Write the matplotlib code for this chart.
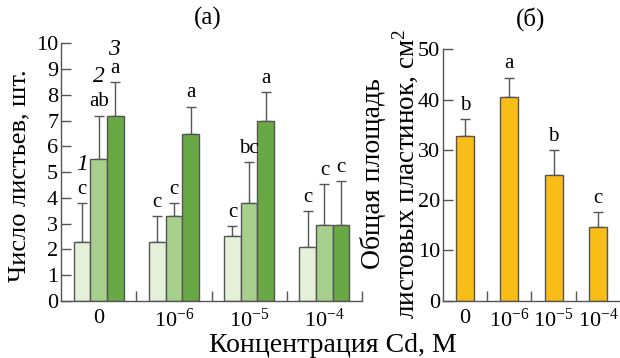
import numpy as np
import matplotlib
matplotlib.use("Agg")
import matplotlib.pyplot as plt

plt.rcParams['font.family'] = ['Liberation Serif', 'DejaVu Serif']
plt.rcParams['mathtext.fontset'] = 'custom'
plt.rcParams['mathtext.rm'] = 'Liberation Serif'
plt.rcParams['mathtext.it'] = 'Liberation Serif:italic'

# Данные: панель (а) - число листьев
conc_labels = ['0', '$10^{-6}$', '$10^{-5}$', '$10^{-4}$']
leaves_1 = [2.3, 2.3, 2.5, 2.1]
leaves_2 = [5.5, 3.3, 3.8, 2.95]
leaves_3 = [7.2, 6.5, 7.0, 2.95]
err_1 = [1.5, 1.0, 0.4, 1.4]
err_2 = [1.7, 0.5, 1.6, 1.6]
err_3 = [1.3, 1.05, 1.1, 1.7]
let_1 = ['c', 'c', 'c', 'c']
let_2 = ['ab', 'c', 'bc', 'c']
let_3 = ['a', 'a', 'a', 'c']

# Панель (б) - общая площадь листовых пластинок
area = [32.8, 40.6, 25.0, 14.6]
area_err = [3.4, 3.8, 5.0, 3.0]
area_let = ['b', 'a', 'b', 'c']

greens = ['#e5f0d9', '#a7d08c', '#69a945']
yellow = '#f8bd16'
edge = '#555555'

fig = plt.figure(figsize=(6.2, 3.58), dpi=100)
ax1 = fig.add_axes([0.0984, 0.160, 0.4855, 0.7185])
ax2 = fig.add_axes([0.7145, 0.160, 0.2855, 0.702])

x = np.arange(4)
w = 0.222
series = [(leaves_1, err_1, let_1), (leaves_2, err_2, let_2), (leaves_3, err_3, let_3)]
for i, (vals, errs, lets) in enumerate(series):
    xs = x + (i - 1) * w
    ax1.bar(xs, vals, w, color=greens[i], edgecolor=edge, linewidth=1.0, zorder=2)
    ax1.errorbar(xs, vals, yerr=[np.zeros(4), errs], fmt='none', ecolor=edge,
                 elinewidth=1.0, capsize=3.5, capthick=1.0, zorder=1)
    for xx, v, e, t in zip(xs, vals, errs, lets):
        ax1.annotate(t, (xx, v + e), xytext=(0, 3), textcoords='offset points',
                     ha='center', va='bottom', fontsize=15)

# номера серий
ax1.text(-w, 5.3, '1', style='italic', fontsize=17, ha='center', va='center')
ax1.text(0, 8.7, '2', style='italic', fontsize=17, ha='center', va='center')
ax1.text(w - 0.02, 9.75, '3', style='italic', fontsize=17, ha='center', va='center')

ax2.bar(x, area, 0.41, color=yellow, edgecolor=edge, linewidth=1.0, zorder=2)
ax2.errorbar(x, area, yerr=[np.zeros(4), area_err], fmt='none', ecolor=edge,
             elinewidth=1.0, capsize=3.5, capthick=1.0, zorder=1)
for xx, v, e, t in zip(x, area, area_err, area_let):
    ax2.annotate(t, (xx, v + e), xytext=(0, 3), textcoords='offset points',
                 ha='center', va='bottom', fontsize=15)

for ax in (ax1, ax2):
    ax.set_xlim(-0.5, 3.5)
    ax.spines['top'].set_visible(False)
    ax.spines['right'].set_visible(False)
    for s in ('left', 'bottom'):
        ax.spines[s].set_color(edge)
        ax.spines[s].set_linewidth(1.0)
    ax.set_xticks(x)
    ax.set_xticklabels(conc_labels)
    ax.tick_params(axis='x', length=0, labelsize=16, pad=6)
    ax.tick_params(axis='y', direction='in', length=7, width=1.0, color=edge,
                   labelsize=16, pad=2)
    ax.tick_params(axis='x', which='minor', direction='in', length=7, width=1.0,
                   color=edge)

ax1.set_xticks([0.5, 1.5, 2.5, 3.5], minor=True)
ax2.set_xticks([0.5, 1.5, 2.5], minor=True)
ax1.set_ylim(0, 10)
ax1.set_yticks(range(0, 11))
ax2.set_ylim(0, 50)
ax2.set_yticks(range(0, 51, 10))

fig.text(0.335, 0.948, '(а)', fontsize=18, ha='center', va='center')
fig.text(0.855, 0.948, '(б)', fontsize=18, ha='center', va='center')
fig.text(0.032, 0.51, 'Число листьев, шт.', fontsize=19, rotation=90,
         ha='center', va='center')
fig.text(0.602, 0.515, 'Общая площадь', fontsize=20, rotation=90,
         ha='center', va='center')
fig.text(0.653, 0.515, 'листовых пластинок, см$^2$', fontsize=19.5, rotation=90,
         ha='center', va='center')
fig.text(0.537, 0.036, 'Концентрация Cd, М', fontsize=20, ha='center', va='center')

fig.savefig('out.png', dpi=100)
